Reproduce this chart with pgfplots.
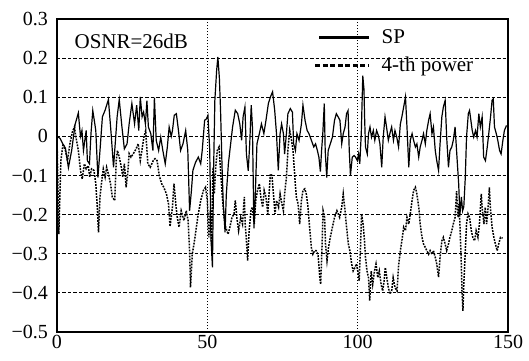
\documentclass[border=0pt]{standalone}
\usepackage{pgfplots}
\pgfplotsset{compat=1.18}
\usepackage{fontspec}
\setmainfont{Liberation Serif}
\begin{document}
\begin{tikzpicture}
\useasboundingbox (-57pt,-28pt) rectangle (472pt,332pt);
\begin{axis}[
  scale only axis,
  width=451pt, height=313pt,
  xmin=0, xmax=150, ymin=-0.5, ymax=0.3,
  xtick={0,50,100,150},
  xticklabels={0,50,100,150},
  ytick={-0.5,-0.4,-0.3,-0.2,-0.1,0,0.1,0.2,0.3},
  yticklabels={−0.5,−0.4,−0.3,−0.2,−0.1,0,0.1,0.2,0.3},
  major tick length=0pt,
  xmajorgrids, ymajorgrids,
  major x grid style={black, line width=0.9pt, dash pattern=on 1.5pt off 1.5pt},
  major y grid style={black, line width=0.8pt, dash pattern=on 3.5pt off 2pt},
  axis line style={line width=1.6pt},
  tick label style={font=\fontsize{20}{22}\selectfont},
  yticklabel style={inner sep=0pt, xshift=-9pt},
  xticklabel style={inner sep=0pt, yshift=-3pt},
  legend style={at={(axis cs:85.5,0.275)}, anchor=north west, draw=none, fill=none,
    font=\fontsize{21}{23}\selectfont, row sep=10pt, column sep=10pt, inner sep=0pt,
    nodes={inner sep=1pt}},
  legend cell align=left,
]
\addplot[black, line width=1.2pt,
  legend image code/.code={\draw[black, line width=2.4pt] (0pt,0pt) -- (50pt,0pt);}]
coordinates {
(0,0) (1,-0.005) (2,-0.02) (2.8,-0.03) (3.8,-0.08) (4.9,-0.035) (6,0.03) (7.1,0.06)
(7.8,0) (8.3,0.015) (8.8,-0.036) (9.7,0.015) (10.1,-0.062) (10.8,-0.07) (11.3,0.007)
(11.9,0.066) (12.4,0.041) (12.9,0.015) (13.6,-0.105) (14.3,-0.036) (15.1,0.05)
(16,0.067) (17.1,0.094) (18,0.007) (18.8,-0.079) (19.2,-0.036) (20,0.05) (20.7,0.094)
(21.6,0.024) (22.4,-0.032) (23.3,-0.019) (24,0.032) (24.9,0.084) (25.8,0.032)
(26.5,0.08) (27.2,0.015) (27.7,0.101) (28.3,0.05) (28.8,0.062) (29.4,0.032)
(29.9,0.091) (30.4,0.024) (31.2,0.007) (31.9,-0.036) (32.4,0.099) (33,-0.01)
(33.8,-0.036) (34.5,-0.002) (35.2,-0.036) (36,-0.07) (36.7,-0.027) (37.3,0.024)
(38,0) (38.4,0.015) (39,0.054) (39.7,0.058) (40.4,0.015) (41.1,-0.036) (41.9,-0.019)
(42.8,0.015) (43.5,-0.036) (44.1,-0.19) (44.7,-0.139) (45.2,-0.087) (46.1,-0.066)
(47,-0.053) (47.8,-0.07) (48.3,-0.036) (49.1,0.041) (49.7,0.045) (50.2,0.054)
(50.8,-0.036) (51.2,-0.26) (51.7,-0.335) (52.1,-0.079) (52.5,0.092) (53.1,0.169)
(53.5,0.203) (54,0.15) (54.4,0.066) (54.9,-0.079) (55.3,-0.173) (55.9,-0.245)
(56.3,-0.15) (57,-0.07) (57.5,-0.036) (58.4,0.024) (59.3,0.067) (60.1,0.058)
(60.8,0.032) (61.4,-0.01) (61.9,0.05) (62.5,0.075) (63,-0.045) (63.6,-0.088)
(64.1,-0.019) (64.6,0.08) (65,0.024) (65.5,-0.235) (65.9,-0.16) (66.5,-0.019)
(67.3,0.007) (68,0.032) (68.8,0.007) (69.5,0.041) (70.3,0.084) (71,0.101)
(71.7,0.114) (72.4,0.067) (73,0.007) (73.6,-0.087) (74.2,0.007) (74.7,0.032)
(75.3,0.007) (75.7,-0.045) (76.3,0.007) (76.8,0.058) (77.6,0.071) (78.3,0.062)
(78.7,-0.019) (79.3,-0.036) (79.8,0.007) (80.5,-0.01) (81.3,0.032) (81.8,0.08)
(82.5,0.041) (83.2,0.015) (83.8,0.007) (84.6,-0.01) (85.4,-0.027) (86,-0.019)
(86.6,-0.036) (87.1,-0.053) (87.6,-0.09) (88,-0.036) (88.4,0.007) (88.9,0.084)
(89.2,-0.036) (89.7,-0.105) (90.2,-0.036) (90.9,-0.019) (91.6,-0.002) (92.3,0.041)
(92.9,0.058) (93.5,0.05) (94.1,0.041) (94.7,-0.019) (95.2,0.007) (95.8,0.024)
(96.3,0.058) (96.8,0.066) (97.2,-0.036) (97.6,-0.1) (98.2,-0.053) (98.8,-0.049)
(99.3,-0.053) (99.9,-0.062) (100.3,-0.045) (100.7,-0.07) (101.2,0.007) (101.7,0.155)
(102.1,0.12) (102.3,0.05) (102.6,-0.027) (103.2,-0.045) (103.6,0.007) (104.1,0.024)
(104.6,-0.002) (105.2,0.015) (105.7,-0.01) (106.3,0.015) (106.9,0.002) (107.4,-0.019)
(108,-0.079) (108.5,-0.002) (109.1,0.05) (109.6,0.024) (110.2,-0.01) (110.7,0.007)
(111.3,0.024) (111.9,-0.01) (112.4,0.015) (113,-0.002) (113.6,-0.027) (114.2,0.032)
(114.7,0.05) (115.3,0.075) (115.9,0.101) (116.4,0.024) (117,-0.079) (117.5,-0.01)
(118.1,0.007) (118.6,-0.01) (119.2,-0.027) (119.7,-0.019) (120.3,-0.053) (120.8,-0.027)
(121.4,-0.01) (121.9,0.007) (122.5,-0.019) (123,0.015) (123.6,0.041) (124.1,0.058)
(124.7,0.007) (125.2,0.024) (125.8,-0.036) (126.3,-0.062) (126.9,-0.087) (127.4,-0.019)
(128,0.05) (128.5,0.075) (129.1,0.092) (129.6,-0.002) (130.2,-0.079) (130.7,-0.036)
(131.3,-0.027) (131.8,-0.01) (132.4,0.024) (133.1,-0.062) (133.6,-0.122) (134,-0.2)
(134.5,-0.155) (134.9,-0.19) (135.3,-0.18) (135.8,-0.104) (136.2,-0.002) (136.8,0.058)
(137.2,0.066) (137.5,0.05) (138.1,0.015) (138.6,-0.002) (139.2,0.015) (139.7,-0.002)
(140.3,0.058) (140.8,0.024) (141.4,0.05) (141.9,-0.053) (142.5,-0.062) (143.1,-0.027)
(143.6,0.007) (144.2,0.05) (144.7,0.092) (145.1,0.096) (145.5,0.024) (146.1,0.007)
(146.6,-0.01) (147.2,-0.036) (147.7,-0.045) (148.3,-0.01) (148.8,0.015) (149.5,0.028)
};
\addlegendentry{SP}
\addplot[black, line width=1.5pt, dash pattern=on 1.8pt off 1.2pt,
  legend image code/.code={\draw[black, line width=2.4pt, dash pattern=on 5pt off 2.5pt] (-4pt,0pt) -- (50pt,0pt);}]
coordinates {
(0,0) (0.6,-0.25) (1.3,-0.062) (2,-0.019) (2.8,-0.036) (3.5,-0.062) (4.3,-0.019)
(5.1,0.011) (5.8,0.024) (6.3,-0.002) (7.1,-0.036) (7.8,-0.087) (8.4,-0.109) (9.1,-0.07)
(9.7,-0.083) (10.4,-0.075) (10.9,-0.104) (11.5,-0.083) (12.3,-0.087) (12.9,-0.121)
(13.4,-0.181) (13.8,-0.245) (14.3,-0.155) (14.9,-0.113) (15.4,-0.083) (16,-0.104)
(16.5,-0.079) (17.1,-0.096) (17.8,-0.121) (18.4,-0.155) (19.2,-0.164) (19.7,-0.062)
(20.1,-0.036) (20.7,-0.053) (21.4,-0.079) (21.9,-0.104) (22.4,-0.07) (23,-0.13)
(23.5,-0.096) (24,-0.044) (24.6,-0.053) (25.4,-0.044) (26.3,-0.032) (27,-0.019)
(27.7,-0.062) (28.4,-0.027) (28.9,-0.002) (29.5,0.015) (30.2,-0.07) (31,-0.079)
(32,-0.062) (32.6,-0.057) (33.3,-0.062) (34,-0.1) (34.8,-0.121) (35.5,-0.13)
(36.4,-0.147) (37.1,-0.173) (37.6,-0.23) (38.4,-0.181) (38.9,-0.121) (39.5,-0.173)
(40,-0.207) (40.6,-0.232) (41.3,-0.19) (42.2,-0.215) (43,-0.19) (43.6,-0.215)
(44.1,-0.292) (44.4,-0.386) (45,-0.301) (45.9,-0.258) (46.8,-0.207) (47.8,-0.164)
(48.7,-0.138) (49.4,-0.13) (50,-0.164) (50.5,-0.258) (51,-0.19) (51.4,-0.275)
(51.9,-0.079) (52.3,-0.147) (52.8,-0.079) (53.3,-0.036) (53.9,-0.027) (54.4,-0.087)
(55,-0.156) (55.6,-0.207) (56.1,-0.232) (56.9,-0.25) (57.5,-0.232) (58.2,-0.207)
(58.9,-0.198) (59.3,-0.164) (59.8,-0.207) (60.4,-0.241) (61.1,-0.207) (61.7,-0.224)
(62.3,-0.155) (62.6,-0.224) (63,-0.267) (63.4,-0.318) (63.9,-0.241) (64.5,-0.19)
(65,-0.181) (65.6,-0.224) (66.1,-0.164) (66.7,-0.138) (67.3,-0.121) (67.8,-0.155)
(68.4,-0.181) (68.9,-0.138) (69.5,-0.155) (70.1,-0.198) (70.6,-0.138) (71,-0.096)
(71.5,-0.1) (71.9,-0.138) (72.5,-0.198) (73,-0.164) (73.7,-0.181) (74.2,-0.147)
(74.8,-0.173) (75.3,-0.19) (75.7,-0.147) (76.3,-0.104) (76.8,-0.036) (77.4,0.015)
(78,-0.01) (78.5,-0.036) (79.1,-0.104) (79.6,-0.155) (80.2,-0.173) (80.7,-0.224)
(81.3,-0.164) (81.8,-0.138) (82.4,-0.134) (82.9,-0.147) (83.5,-0.181) (84,-0.232)
(84.6,-0.284) (85.1,-0.301) (85.7,-0.292) (86.2,-0.292) (86.8,-0.301) (87.4,-0.36)
(87.7,-0.378) (88.1,-0.292) (88.5,-0.19) (89,-0.207) (89.3,-0.275) (89.8,-0.318)
(90.3,-0.284) (90.9,-0.258) (91.6,-0.232) (92.3,-0.207) (93.1,-0.19) (94,-0.207)
(94.7,-0.181) (95.2,-0.147) (95.8,-0.19) (96.3,-0.232) (96.9,-0.275) (97.4,-0.292)
(98,-0.326) (98.5,-0.344) (99.1,-0.335) (99.6,-0.326) (100.2,-0.352) (100.5,-0.369)
(100.9,-0.292) (101.3,-0.198) (101.8,-0.224) (102.2,-0.258) (102.6,-0.309)
(103.1,-0.344) (103.6,-0.361) (104,-0.42) (104.5,-0.344) (105,-0.378) (105.6,-0.344)
(106.1,-0.326) (106.7,-0.361) (107.2,-0.344) (107.8,-0.378) (108.3,-0.395)
(108.8,-0.369) (109.2,-0.335) (109.7,-0.361) (110.2,-0.386) (110.7,-0.403)
(111.3,-0.395) (111.8,-0.361) (112.4,-0.386) (113.1,-0.395) (113.6,-0.33)
(114.2,-0.292) (114.7,-0.267) (115.3,-0.232) (115.9,-0.241) (116.4,-0.207)
(117,-0.224) (117.5,-0.198) (118.1,-0.164) (118.6,-0.138) (119.2,-0.13) (119.7,-0.147)
(120.3,-0.181) (120.8,-0.224) (121.4,-0.258) (121.9,-0.275) (122.5,-0.284) (123,-0.292)
(123.6,-0.301) (124.1,-0.292) (124.7,-0.301) (125.2,-0.292) (125.8,-0.309)
(126.3,-0.326) (126.9,-0.36) (127.4,-0.309) (128,-0.267) (128.5,-0.258) (129.1,-0.275)
(129.6,-0.292) (130.2,-0.275) (130.7,-0.258) (131.3,-0.241) (131.8,-0.224)
(132.4,-0.207) (132.9,-0.14) (133.4,-0.207) (133.7,-0.173) (134,-0.224) (134.4,-0.309)
(134.7,-0.395) (135,-0.446) (135.3,-0.378) (135.8,-0.292) (136.2,-0.224) (136.7,-0.198)
(137.2,-0.207) (137.8,-0.241) (138.3,-0.258) (138.9,-0.267) (139.4,-0.241) (140,-0.258)
(140.5,-0.224) (141.1,-0.147) (141.5,-0.19) (142,-0.224) (142.4,-0.181) (142.9,-0.224)
(143.3,-0.19) (143.8,-0.13) (144.2,-0.19) (144.7,-0.232) (145.3,-0.258) (145.8,-0.275)
(146.4,-0.292) (146.9,-0.275) (147.5,-0.258) (148.2,-0.26)
};
\addlegendentry{4-th power}
\node[anchor=west, inner sep=0pt, font=\fontsize{21}{23}\selectfont] at (axis cs:5.8,0.243) {OSNR=26dB};
\end{axis}
\end{tikzpicture}
\end{document}
